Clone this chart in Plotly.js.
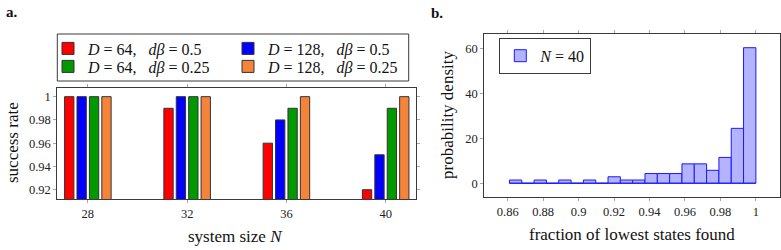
<!DOCTYPE html>
<html><head><meta charset="utf-8">
<script src="https://cdn.plot.ly/plotly-3.0.1.min.js"></script>
<style>body{margin:0;background:#fff}#chart{width:781px;height:250px}</style>
</head><body><div id="chart"></div>
<script>
// ---- panel a data ----
const systemSizes = [28, 32, 36, 40];
const G = '\u2002 ';
const seriesNames = [
  '<i>D</i> = 64,' + G + '<i>dβ</i> = 0.5',
  '<i>D</i> = 128,' + G + '<i>dβ</i> = 0.5',
  '<i>D</i> = 64,' + G + '<i>dβ</i> = 0.25',
  '<i>D</i> = 128,' + G + '<i>dβ</i> = 0.25'
];
const rateD64b05  = [1.00, 0.99, 0.96, 0.92];
const rateD128b05 = [1.00, 1.00, 0.98, 0.95];
const rateD64b025 = [1.00, 1.00, 0.99, 0.99];
const rateD128b025 = [1.00, 1.00, 1.00, 1.00];
const seriesColors = ['#ff0000', '#0000ff', '#009a00', '#f5843a'];
const legendRows = ['legend', 'legend', 'legend3', 'legend3'];
const rateTicks = [0.92, 0.94, 0.96, 0.98, 1];
const rateTickText = ['0.92', '0.94', '0.96', '0.98', '1'];

// ---- panel b data ----
const binLeftEdges = [0.861, 0.86795, 0.8749, 0.88185, 0.8888, 0.89575, 0.9027, 0.90965, 0.9166, 0.92355,
                      0.9305, 0.93745, 0.9444, 0.95135, 0.9583, 0.96525, 0.9722, 0.97915, 0.9861, 0.99305];
const binWidth = 0.00695;
const binDensity = [1.44, 0, 1.44, 0, 1.44, 0, 1.44, 0, 2.88, 1.44,
                    1.44, 4.32, 4.32, 4.32, 8.63, 8.63, 5.76, 11.5, 24.46, 60.4];
const histName = '<i>N</i> = 40';
const fracTicks = [0.86, 0.88, 0.9, 0.92, 0.94, 0.96, 0.98, 1];
const fracTickText = ['0.86', '0.88', '0.9', '0.92', '0.94', '0.96', '0.98', '1'];
const densTicks = [0, 20, 40, 60];

const FONT = 'Liberation Serif, DejaVu Serif, serif';
const AX = '#3a3a3a', TK = '#a8a8a8';

const rateSeries = [rateD64b05, rateD128b05, rateD64b025, rateD128b025];
const traces = rateSeries.map((vals, i) => ({
  type: 'bar', x: systemSizes, y: vals, name: seriesNames[i],
  xaxis: 'x', yaxis: 'y', legend: legendRows[i],
  marker: {color: seriesColors[i], line: {color: '#333', width: 1}}
}));
traces.push({
  type: 'scatter', mode: 'lines', x: [binLeftEdges[0], binLeftEdges[binLeftEdges.length - 1] + binWidth], y: [0, 0],
  xaxis: 'x2', yaxis: 'y2', showlegend: false, hoverinfo: 'skip',
  line: {color: '#1a1aff', width: 1}
});
traces.push({
  type: 'bar', x: binLeftEdges, y: binDensity, offset: 0, width: binWidth,
  name: histName, xaxis: 'x2', yaxis: 'y2', legend: 'legend2',
  marker: {color: '#b3b3ff', line: {color: '#1a1aff', width: 1}}
});

function baseAxis(extra) {
  return Object.assign({
    showgrid: false, zeroline: false, showline: true, mirror: 'ticks', linecolor: AX, linewidth: 1,
    ticks: 'outside', ticklen: 3, tickcolor: TK, tickwidth: 1,
    tickfont: {family: FONT, size: 12.5, color: '#222'}, tickmode: 'array'
  }, extra);
}
function innerAxis(extra) {
  return Object.assign({
    showgrid: false, zeroline: false, showline: false, mirror: 'ticks',
    ticks: 'inside', ticklen: 3, tickcolor: TK, tickwidth: 1, showticklabels: false, tickmode: 'array'
  }, extra);
}

const xA = {range: [26.77, 41.22], tickvals: systemSizes, ticktext: systemSizes.map(String)};
const yA = {range: [0.912, 1.0077], tickvals: rateTicks, ticktext: rateTickText};
const xB = {range: [0.8468, 1.0136], tickvals: fracTicks, ticktext: fracTickText};
const yB = {range: [-6, 66.5], tickvals: densTicks, ticktext: densTicks.map(String)};

const legendCommon = {
  orientation: 'h', entrywidth: 135, entrywidthmode: 'pixels', itemwidth: 30,
  borderwidth: 0, bgcolor: 'rgba(0,0,0,0)', xanchor: 'left', yanchor: 'middle',
  font: {family: FONT, size: 16, color: '#111'}
};

const layout = {
  width: 781, height: 250, margin: {l: 0, r: 0, t: 0, b: 0},
  paper_bgcolor: '#fff', plot_bgcolor: 'rgba(0,0,0,0)',
  barmode: 'group', bargap: 0.5, bargroupgap: 0.25,
  font: {family: FONT, color: '#222'},
  xaxis: baseAxis(Object.assign({domain: [0.0734, 0.5326], anchor: 'y'}, xA)),
  yaxis: baseAxis(Object.assign({domain: [0.204, 0.6492], anchor: 'x'}, yA)),
  xaxis3: innerAxis(Object.assign({overlaying: 'x', anchor: 'y'}, xA)),
  yaxis3: innerAxis(Object.assign({overlaying: 'y', anchor: 'x'}, yA)),
  xaxis2: baseAxis(Object.assign({domain: [0.6201, 0.9987], anchor: 'y2'}, xB)),
  yaxis2: baseAxis(Object.assign({domain: [0.2132, 0.864], anchor: 'x2'}, yB)),
  xaxis4: innerAxis(Object.assign({overlaying: 'x2', anchor: 'y2'}, xB)),
  yaxis4: innerAxis(Object.assign({overlaying: 'y2', anchor: 'x2'}, yB)),
  legend: Object.assign({}, legendCommon, {x: 48 / 781, y: 1 - 48.5 / 250}),
  legend3: Object.assign({}, legendCommon, {x: 48 / 781, y: 1 - 66.5 / 250}),
  legend2: {
    x: 499.3 / 781, xanchor: 'left', y: 1 - 55.8 / 250, yanchor: 'middle',
    itemwidth: 30, bordercolor: AX, borderwidth: 1, bgcolor: '#fff',
    font: {family: FONT, size: 16, color: '#111'}
  },
  shapes: [{
    type: 'rect', xref: 'paper', yref: 'paper', layer: 'below',
    x0: 57.3 / 781, x1: 408.7 / 781, y0: 1 - 81 / 250, y1: 1 - 34 / 250,
    line: {color: AX, width: 1}, fillcolor: '#fff'
  }],
  annotations: [
    {text: '<b>a.</b>', x: 12, y: 12, size: 15},
    {text: '<b>b.</b>', x: 437, y: 13, size: 15},
    {text: 'success rate', x: 12, y: 143, textangle: -90, size: 17},
    {text: 'system size <i>N</i>', x: 235, y: 236, size: 17},
    {text: 'probability density', x: 448, y: 115, textangle: -90, size: 17},
    {text: 'fraction of lowest states found', x: 632, y: 234, size: 17}
  ].map(a => ({
    text: a.text, textangle: a.textangle || 0, showarrow: false,
    xref: 'paper', yref: 'paper', x: a.x / 781, y: 1 - a.y / 250,
    xanchor: 'center', yanchor: 'middle',
    font: {family: FONT, size: a.size, color: '#111'}
  }))
};

Plotly.newPlot('chart', traces, layout, {staticPlot: true, displayModeBar: false});
</script>
</body></html>
